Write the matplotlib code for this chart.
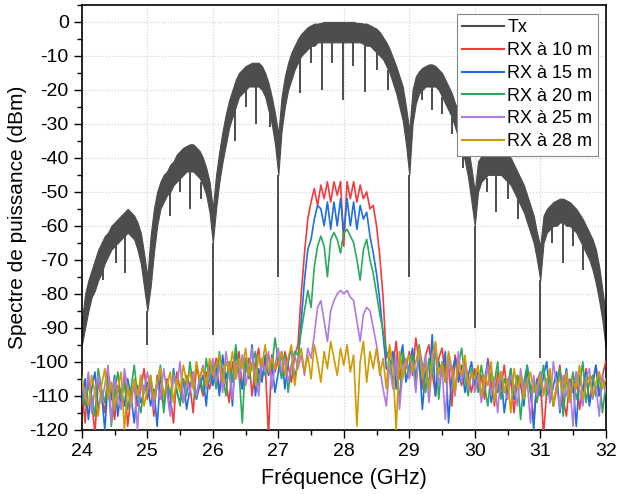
import numpy as np
import matplotlib
matplotlib.use("Agg")
import matplotlib.pyplot as plt
from matplotlib.ticker import MultipleLocator
from matplotlib.lines import Line2D

plt.rcParams['font.family'] = ['Liberation Sans', 'DejaVu Sans']
plt.rcParams['axes.unicode_minus'] = False

# frequency grid (GHz), 0.05 GHz step
freq = np.round(np.arange(24.0, 32.0001, 0.05), 2)

# Tx spectrum: upper / lower edge of the dense trace (dBm)
tx_hi = [-88, -80, -76, -73, -70, -67, -65, -63, -62, -60, -59, -58, -57, -56, -55, -56, -57, -59, -62, -68,
         -75, -63, -55, -50, -47, -45, -44, -42, -41, -39, -38, -37, -36.5, -36, -36, -37, -38, -40, -43, -47,
         -55, -45, -38, -32, -27, -23, -20, -17, -15, -14, -13, -12.5, -12, -12, -12, -13, -15, -18, -22, -27,
         -33, -22, -16, -12, -9, -7, -5, -3.5, -2.5, -1.5, -1, -0.5, -0.5, -0.3, 0, 0, 0, 0, 0, 0,
         0, 0, 0, 0, -0.3, -0.3, -0.5, -0.5, -1, -1.5, -2, -3, -4.5, -6, -8, -10.5, -13, -16, -19, -25,
         -32, -20, -16, -14.5, -13.5, -13, -12.5, -12.5, -13, -14, -15, -17, -19, -21, -24, -26, -29, -33, -37, -43,
         -50, -41, -39.5, -38.5, -38, -37.5, -37.5, -37.5, -38, -38.5, -39, -40, -42, -44, -46, -48, -51, -54, -57, -62,
         -66, -57, -55, -54, -53, -52.5, -52, -52, -52.5, -53, -54, -55, -56.5, -58, -60, -62, -64, -67, -72, -79,
         -86]
tx_lo = [-95, -90, -85, -81, -79, -76, -74, -71, -69, -67, -66, -65, -64, -63, -62, -63, -64, -67, -71, -78,
         -85, -78, -68, -60, -55, -53, -51, -50, -48, -47, -46, -45, -44, -44, -44, -45, -46, -48, -51, -56,
         -65, -55, -47, -41, -36, -31, -28, -25, -22, -21, -20, -19, -19, -19, -19, -20, -22, -26, -30, -36,
         -45, -32, -25, -20, -17, -14, -12, -10, -9, -8, -7, -7, -6, -6, -6, -6, -6, -6, -6, -6,
         -6, -6, -6, -6, -6, -6, -6.5, -7, -7, -8, -9, -10, -11, -13, -15, -18, -21, -25, -29, -36,
         -45, -30, -24, -21, -20, -19, -19, -19, -19, -20, -22, -24, -26, -28, -31, -34, -37, -41, -46, -53,
         -60, -50, -47, -46, -45, -45, -45, -45, -45, -46, -47, -48, -50, -52, -54, -56, -59, -62, -65, -70,
         -76, -65, -62, -61, -60, -60, -59, -59, -60, -60, -61, -62, -64, -66, -68, -70, -73, -77, -82, -88,
         -96]

# thin downward spikes of the Tx trace (nulls + fine dips)
spike_f = [25.0, 26.0, 27.0, 29.0, 30.0, 31.0,
           24.33, 24.66, 25.34, 25.65, 26.34, 26.66, 26.87, 27.33, 27.66, 27.82, 27.99, 28.14,
           28.32, 28.67, 29.2, 29.34, 29.66, 30.33, 30.66, 31.18, 31.34, 31.65,
           24.52, 25.5, 25.82, 26.5, 27.5, 28.5, 29.5, 29.82, 30.18, 30.5, 31.5]
spike_top = [-85, -65, -45, -45, -60, -76,
             -70, -62, -49, -43, -24, -19, -27, -11, -6, -6, -6, -6,
             -6.5, -14, -20, -19, -28, -45, -52, -60, -59, -66,
             -66, -46, -47, -20, -7, -9, -22, -38, -46, -47, -61]
spike_bot = [-95, -92, -75, -75, -90, -99,
             -76, -74, -57, -55, -35, -30, -31, -21, -20, -12, -23, -13,
             -20.5, -20, -23, -26, -33, -56, -58, -65, -71, -73,
             -71, -50, -52, -25, -12, -14, -27, -43, -50, -52, -66]

rx10 = [-108, -118, -104, -112, -121, -106, -110, -115, -103, -109, -117, -107, -112, -104, -119, -110, -106, -113, -108, -102,
        -111, -106, -116, -104, -109, -113, -105, -110, -118, -103, -108, -112, -104, -107, -115, -101, -106, -110, -103, -108,
        -104, -99, -109, -102, -106, -112, -100, -105, -97, -108, -103, -99, -110, -101, -96, -105, -100, -122, -98, -103,
        -99, -104, -97, -101, -106, -98, -95, -80, -68, -58, -53, -49, -54, -48, -52, -47, -53, -47, -51, -47,
        -66, -47, -52, -47, -53, -48, -52, -50, -55, -54, -60, -69, -81, -99, -96, -101, -94, -105, -99, -102,
        -97, -104, -93, -100, -108, -98, -95, -103, -110, -99, -96, -104, -101, -113, -98, -103, -107, -100, -105, -109,
        -102, -108, -104, -111, -99, -106, -113, -103, -108, -101, -110, -105, -115, -104, -107, -112, -102, -109, -117, -106,
        -103, -122, -108, -104, -113, -107, -101, -111, -116, -105, -109, -103, -114, -108, -102, -112, -106, -101, -110, -104,
        -100]
rx15 = [-112, -105, -117, -108, -103, -114, -109, -120, -106, -111, -104, -116, -108, -113, -105, -110, -118, -107, -112, -109,
        -106, -113, -108, -119, -104, -110, -107, -115, -102, -109, -112, -105, -114, -108, -103, -111, -107, -104, -113, -101,
        -107, -102, -110, -98, -105, -101, -113, -96, -104, -108, -99, -103, -95, -110, -102, -106, -98, -104, -100, -109,
        -103, -97, -108, -100, -96, -105, -100, -88, -76, -67, -64, -58, -54, -55, -60, -53, -61, -53, -60, -52,
        -62, -52, -60, -53, -61, -54, -58, -56, -63, -68, -74, -82, -92, -102, -103, -97, -108, -100, -95, -106,
        -101, -96, -105, -99, -114, -102, -107, -92, -110, -100, -104, -97, -118, -103, -99, -106, -101, -109, -104, -100,
        -107, -103, -110, -105, -100, -112, -106, -109, -103, -115, -108, -102, -111, -106, -104, -113, -101, -108, -120, -105,
        -110, -104, -100, -112, -107, -103, -115, -108, -102, -111, -106, -119, -104, -109, -103, -113, -107, -101, -110, -105,
        -108]
rx20 = [-104, -113, -107, -110, -116, -102, -108, -112, -105, -119, -109, -103, -111, -106, -114, -108, -101, -110, -115, -107,
        -109, -104, -112, -107, -101, -115, -106, -110, -103, -108, -113, -105, -110, -100, -107, -111, -104, -109, -99, -106,
        -101, -108, -97, -104, -110, -100, -106, -95, -103, -118, -99, -105, -101, -97, -107, -100, -104, -98, -102, -93,
        -100, -105, -98, -109, -101, -97, -98, -91, -85, -79, -84, -72, -66, -63, -66, -75, -64, -62, -64, -68,
        -62, -61, -63, -65, -70, -76, -67, -64, -70, -74, -80, -86, -91, -97, -99, -106, -101, -112, -97, -104,
        -103, -98, -107, -95, -101, -109, -99, -104, -96, -111, -100, -106, -98, -103, -108, -101, -96, -105, -110, -102,
        -104, -109, -101, -107, -113, -103, -106, -100, -111, -105, -108, -102, -110, -104, -117, -106, -101, -109, -105, -112,
        -106, -101, -110, -104, -113, -108, -102, -116, -105, -109, -103, -111, -107, -100, -112, -106, -104, -110, -103, -115,
        -107]
rx25 = [-106, -111, -103, -115, -108, -104, -112, -107, -101, -118, -105, -110, -114, -102, -108, -113, -106, -120, -104, -109,
        -103, -108, -114, -106, -111, -102, -109, -116, -104, -107, -100, -112, -106, -109, -103, -110, -105, -101, -108, -104,
        -99, -106, -101, -109, -97, -103, -111, -100, -105, -98, -107, -102, -96, -104, -110, -99, -103, -97, -108, -101,
        -96, -103, -99, -106, -101, -98, -102, -98, -104, -96, -99, -92, -84, -82, -88, -94, -85, -82, -80, -79,
        -80, -79, -81, -82, -88, -94, -86, -84, -85, -90, -95, -102, -108, -113, -101, -108, -98, -114, -103, -99,
        -105, -100, -109, -96, -103, -98, -112, -101, -95, -107, -102, -117, -99, -104, -110, -97, -106, -101, -108, -103,
        -109, -104, -112, -106, -101, -110, -105, -115, -103, -108, -111, -104, -107, -113, -102, -109, -105, -118, -104, -110,
        -103, -109, -105, -112, -100, -107, -114, -104, -110, -106, -119, -103, -108, -113, -105, -102, -111, -107, -116, -104,
        -109]
rx28 = [-105, -110, -113, -104, -109, -116, -107, -102, -111, -106, -114, -108, -103, -120, -107, -112, -105, -110, -104, -113,
        -108, -104, -111, -106, -102, -110, -107, -103, -112, -105, -109, -101, -106, -103, -108, -100, -105, -102, -107, -99,
        -104, -101, -98, -106, -100, -103, -97, -105, -99, -102, -96, -104, -100, -107, -98, -101, -95, -103, -99, -102,
        -101, -97, -104, -99, -95, -107, -100, -96, -103, -98, -105, -95, -100, -106, -97, -102, -94, -99, -104, -96,
        -101, -95, -103, -98, -119, -100, -94, -106, -97, -102, -96, -104, -99, -108, -95, -101, -120, -97, -105, -100,
        -98, -103, -100, -96, -105, -101, -108, -99, -94, -104, -100, -106, -97, -102, -109, -100, -104, -98, -107, -103,
        -105, -101, -110, -104, -107, -100, -112, -106, -103, -109, -105, -115, -102, -108, -104, -111, -106, -103, -109, -107,
        -104, -110, -106, -102, -113, -107, -105, -109, -103, -112, -106, -108, -101, -111, -107, -104, -110, -106, -103, -108,
        -105]

rx_series = [rx10, rx15, rx20, rx25, rx28]
rx_labels = ['RX à 10 m', 'RX à 15 m', 'RX à 20 m', 'RX à 25 m', 'RX à 28 m']
rx_colors = ['#f03c3c', '#1f6fe0', '#2aaa5a', '#b07ae0', '#d09a00']
tx_color = '#4d4d4d'

fig = plt.figure(figsize=(6.2, 4.94), dpi=100)
ax = fig.add_axes([0.132, 0.13, 0.845, 0.86])

ax.fill_between(freq, tx_lo, tx_hi, color=tx_color, lw=0.8, zorder=2)
ax.vlines(spike_f, spike_bot, spike_top, color=tx_color, lw=1.4, zorder=2)

for y, c in zip(rx_series, rx_colors):
    ax.plot(freq, y, color=c, lw=1.2, zorder=3)

ax.set_xlim(24, 32)
ax.set_ylim(-120, 5)
ax.xaxis.set_major_locator(MultipleLocator(1))
ax.xaxis.set_minor_locator(MultipleLocator(0.5))
ax.yaxis.set_major_locator(MultipleLocator(10))
ax.yaxis.set_minor_locator(MultipleLocator(5))
ax.tick_params(which='major', direction='out', length=6, width=1, labelsize=14)
ax.tick_params(which='minor', direction='out', length=3.5, width=1)
ax.grid(True, which='major', color='#d0d0d0', linestyle=':', lw=0.8)
ax.set_axisbelow(True)
for s in ax.spines.values():
    s.set_linewidth(1.2)

ax.set_xlabel('Fréquence (GHz)', fontsize=15.5, labelpad=6)
ax.set_ylabel('Spectre de puissance (dBm)', fontsize=15, labelpad=2)

handles = [Line2D([], [], color=tx_color, lw=1.5)]
handles += [Line2D([], [], color=c, lw=1.5) for c in rx_colors]
leg = ax.legend(handles, ['Tx'] + rx_labels, loc='upper right', bbox_to_anchor=(0.985, 0.979),
                fontsize=13, handlelength=2.3, handletextpad=0.2, labelspacing=0.32,
                borderpad=0.3, borderaxespad=0, fancybox=False, framealpha=1, edgecolor='#888888')
leg.get_frame().set_linewidth(0.8)

fig.savefig('out.png', dpi=100)
